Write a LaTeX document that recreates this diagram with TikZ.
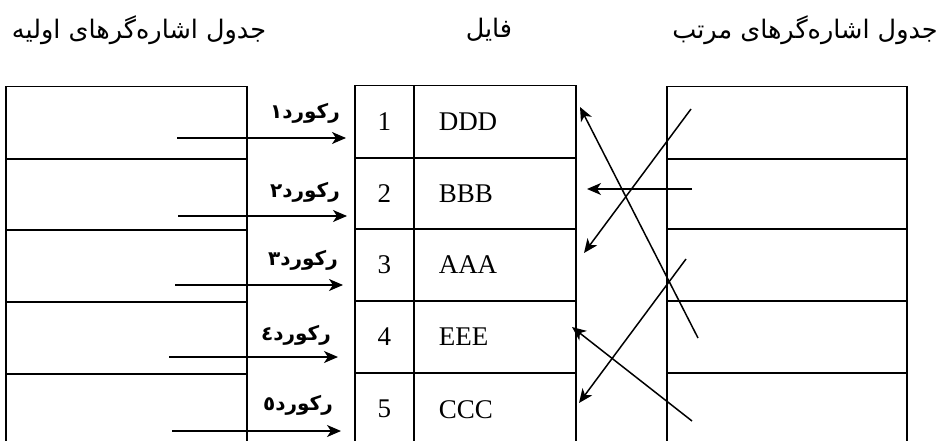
\documentclass[tikz,border=0pt]{standalone}
\usepackage{fontspec}
\setmainfont{Liberation Serif}
\newfontfamily\arabicfont[Script=Arabic]{DejaVu Sans}
\TeXXeTstate=1
\usetikzlibrary{arrows.meta}
\begin{document}
\begin{tikzpicture}[x=1pt,y=-1pt,
  cell/.style={draw, line width=1.5pt, inner sep=0pt, anchor=north west},
  lcell/.style={cell, minimum width=241pt},
  ncell/.style={cell, minimum width=59pt, font=\fontsize{27}{30}\selectfont},
  dcell/.style={cell, minimum width=162pt, text width=112pt, inner xsep=25pt, align=left, font=\fontsize{27}{30}\selectfont},
  rcell/.style={cell, minimum width=240pt},
  arr/.style={line width=1.5pt, -{Stealth[length=14pt,width=12pt,inset=4pt]}},
  rec/.style={anchor=east, inner sep=0pt, font=\arabicfont\bfseries\fontsize{20}{24}\selectfont},
  head/.style={inner sep=0pt, font=\arabicfont\fontsize{25.5}{30}\selectfont}]
\useasboundingbox (0,0) rectangle (941,441);
\clip (0,0) rectangle (941,441);
% headers
\node[head] (h1) at (139,30) {\beginR جدول اشاره^^^^200cگرهای اولیه\endR};
\node[head] (h2) at (489,30) {\beginR فایل\endR};
\node[head] (h3) at (805,30) {\beginR جدول اشاره^^^^200cگرهای مرتب\endR};
% left table
\node[lcell, minimum height=72pt] (L1) at (5,86) {};
\node[lcell, minimum height=71pt] (L2) at (5,158) {};
\node[lcell, minimum height=72pt] (L3) at (5,229) {};
\node[lcell, minimum height=72pt] (L4) at (5,301) {};
\node[lcell, minimum height=72pt] (L5) at (5,373) {};
% middle table
\node[ncell, minimum height=72pt] (N1) at (354,85) {1};
\node[ncell, minimum height=71pt] (N2) at (354,157) {2};
\node[ncell, minimum height=72pt] (N3) at (354,228) {3};
\node[ncell, minimum height=72pt] (N4) at (354,300) {4};
\node[ncell, minimum height=73pt] (N5) at (354,372) {5};
\node[dcell, minimum height=72pt] (D1) at (413,85) {DDD};
\node[dcell, minimum height=71pt] (D2) at (413,157) {BBB};
\node[dcell, minimum height=72pt] (D3) at (413,228) {AAA};
\node[dcell, minimum height=72pt] (D4) at (413,300) {EEE};
\node[dcell, minimum height=73pt] (D5) at (413,372) {CCC};
% right table
\node[rcell, minimum height=72pt] (R1) at (666,86) {};
\node[rcell, minimum height=70pt] (R2) at (666,158) {};
\node[rcell, minimum height=72pt] (R3) at (666,228) {};
\node[rcell, minimum height=72pt] (R4) at (666,300) {};
\node[rcell, minimum height=73pt] (R5) at (666,372) {};
% record labels
\node[rec] (k1) at (340,113) {\beginR رکورد١\endR};
\node[rec] (k2) at (340,192) {\beginR رکورد٢\endR};
\node[rec] (k3) at (338,260) {\beginR رکورد٣\endR};
\node[rec] (k4) at (331,335) {\beginR رکورد٤\endR};
\node[rec] (k5) at (333,405) {\beginR رکورد٥\endR};
% left arrows
\coordinate (a1) at (177,138); \coordinate (b1) at (346,138);
\coordinate (a2) at (178,216); \coordinate (b2) at (347,216);
\coordinate (a3) at (175,285); \coordinate (b3) at (343,285);
\coordinate (a4) at (169,357); \coordinate (b4) at (338,357);
\coordinate (a5) at (172,431); \coordinate (b5) at (341,431);
\foreach \i in {1,...,5} {\draw[arr] (a\i) -- (b\i);}
% right arrows
\coordinate (s1) at (698,338); \coordinate (t1) at (580,107);
\coordinate (s2) at (692,189); \coordinate (t2) at (587,189);
\coordinate (s3) at (691,109); \coordinate (t3) at (584,253);
\coordinate (s4) at (692,421); \coordinate (t4) at (572,327);
\coordinate (s5) at (686,259); \coordinate (t5) at (579,403);
\foreach \i in {1,...,5} {\draw[arr] (s\i) -- (t\i);}
\end{tikzpicture}
\end{document}
